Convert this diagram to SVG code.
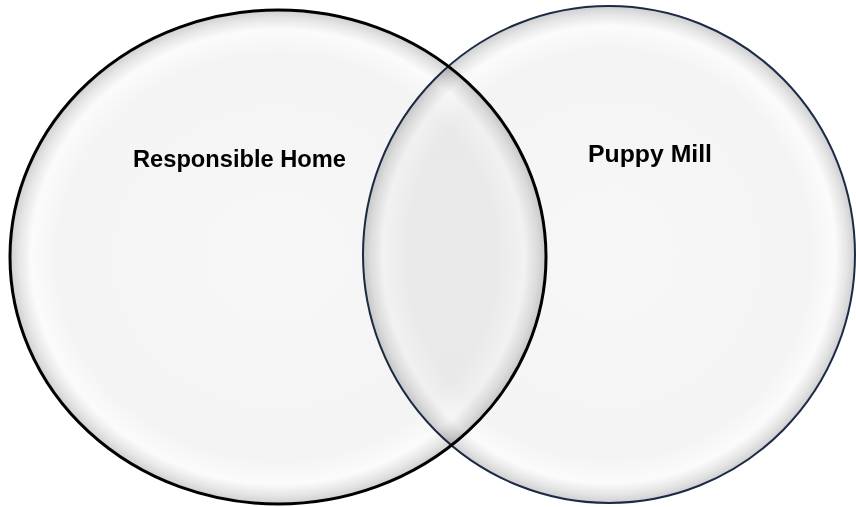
<svg xmlns="http://www.w3.org/2000/svg" width="856" height="507" viewBox="0 0 856 507">
  <defs>
    <radialGradient id="bubble" cx="0.5" cy="0.5" r="0.5">
      <stop offset="0" stop-color="#f7f7f7"/>
      <stop offset="0.82" stop-color="#f4f4f4"/>
      <stop offset="0.92" stop-color="#fbfbfb"/>
      <stop offset="0.965" stop-color="#e6e6e6"/>
      <stop offset="1" stop-color="#cfcfcf"/>
    </radialGradient>
    <style>
      .label { font-family: "Liberation Sans", Arial, sans-serif; font-weight: bold; font-size: 23px; fill: #000; }
    </style>
  </defs>
  <rect width="856" height="507" fill="#ffffff"/>
  <g id="responsible-home">
    <ellipse cx="278" cy="257" rx="268" ry="247" fill="url(#bubble)" stroke="#000000" stroke-width="3"/>
    <text class="label" x="133" y="167" textLength="213" lengthAdjust="spacingAndGlyphs">Responsible Home</text>
  </g>
  <g id="puppy-mill">
    <ellipse cx="609" cy="254.5" rx="246" ry="248.5" fill="url(#bubble)" stroke="#1c2b45" stroke-width="2" style="mix-blend-mode:multiply"/>
    <text class="label" x="588" y="162" textLength="124" lengthAdjust="spacingAndGlyphs">Puppy Mill</text>
  </g>
  <g id="connectors"/>
</svg>
